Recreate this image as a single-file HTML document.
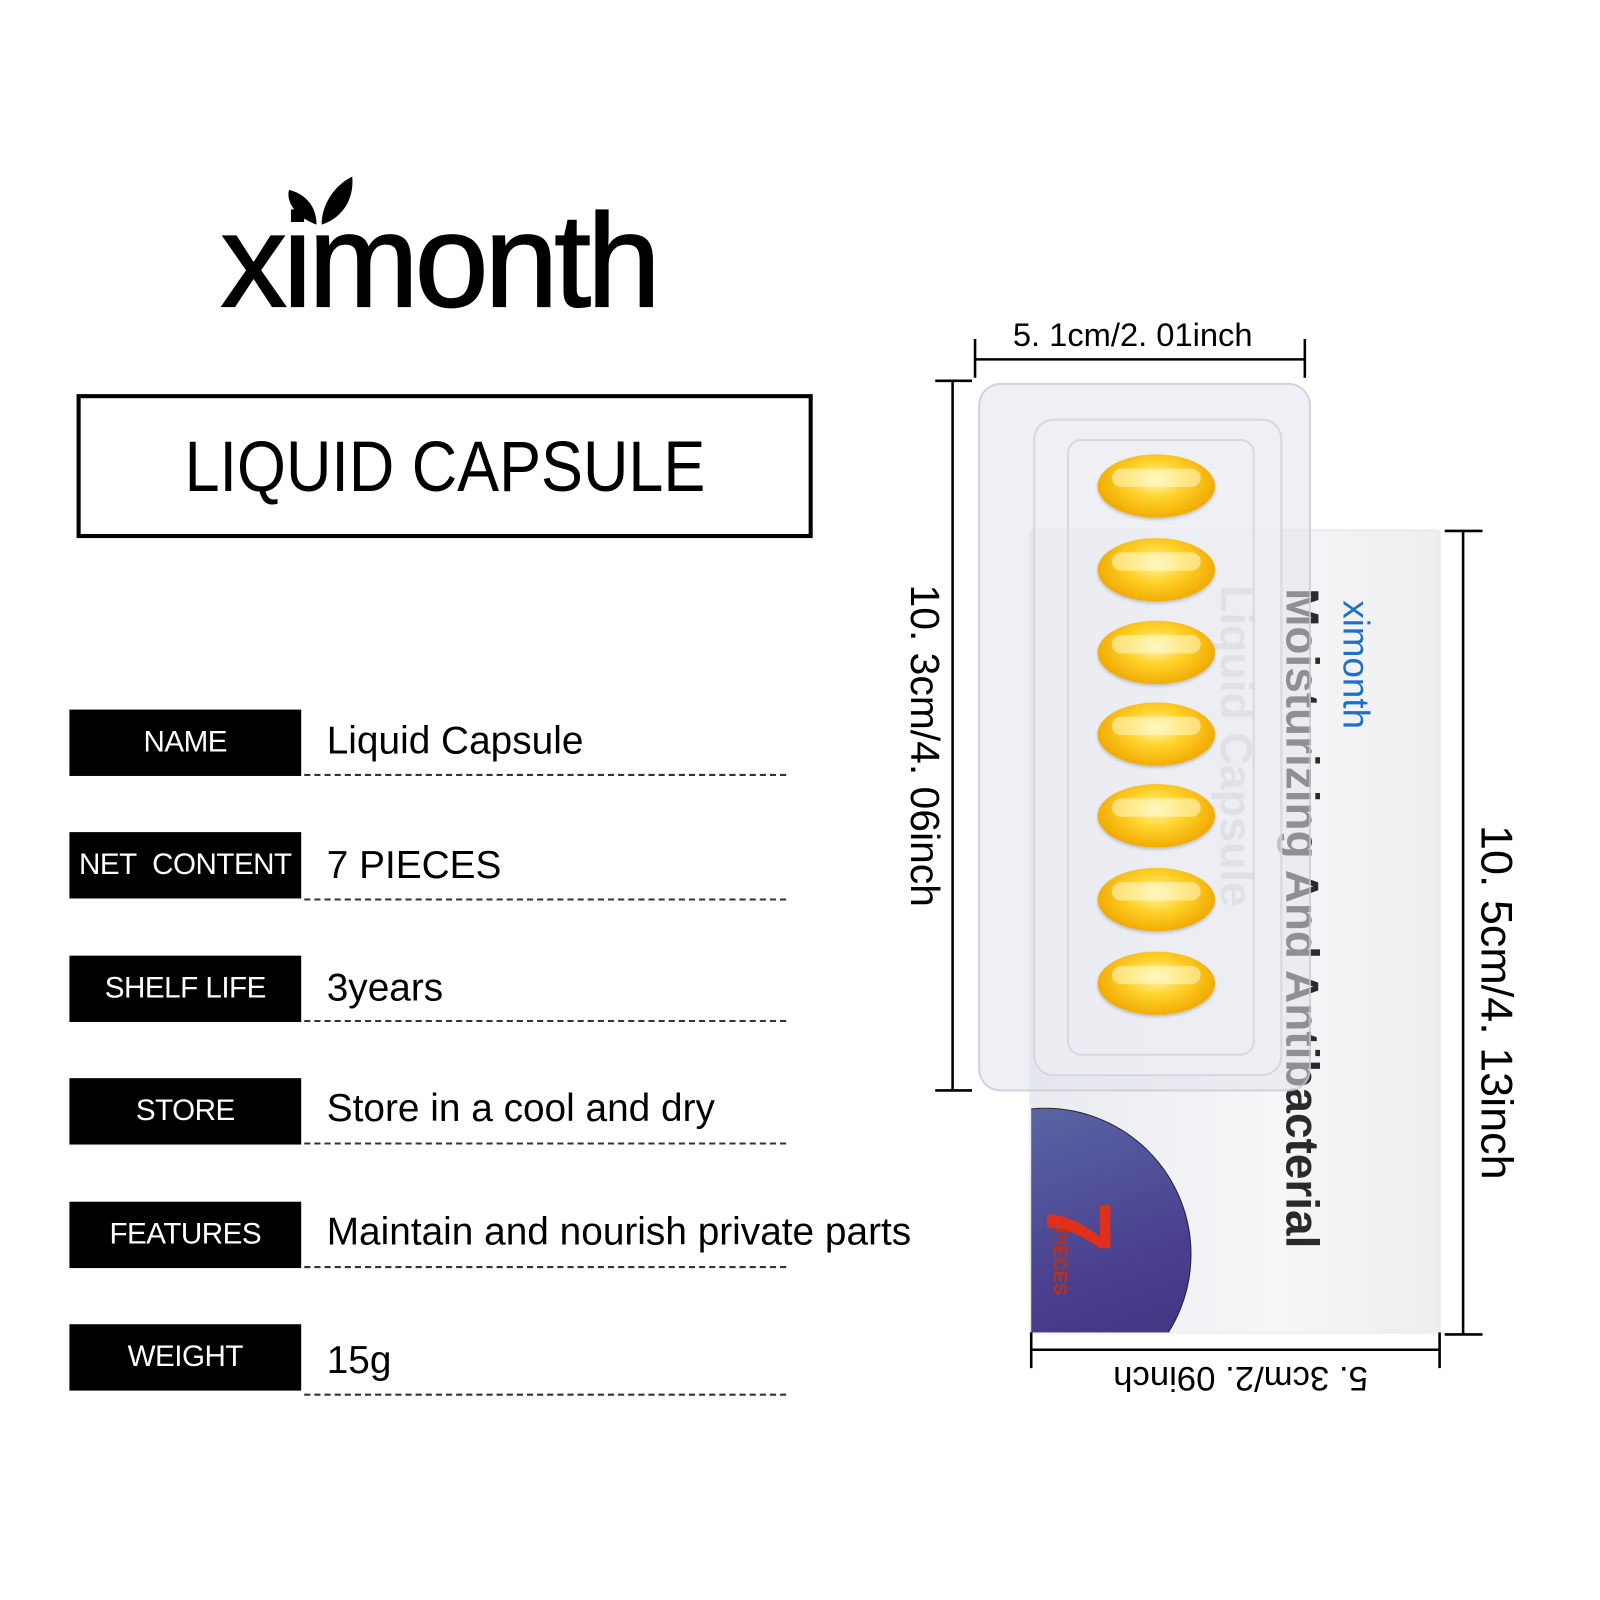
<!DOCTYPE html>
<html><head><style>
body{margin:0;width:1600px;height:1600px;background:#fff;position:relative;overflow:hidden;font-family:"Liberation Sans",sans-serif;}
#w{position:absolute;left:0;top:0;width:1560px;height:1560px;transform:scale(1.021);transform-origin:0 0}
.a{position:absolute}
.lab{position:absolute;left:68px;width:227px;height:65px;background:#000;color:#fff;font-size:29px;display:flex;align-items:center;justify-content:center;letter-spacing:-0.5px}
.val{position:absolute;left:320px;font-size:38px;color:#000}
.dash{position:absolute;left:298px;width:472px;border-top:2px dashed #333}
.cap{position:absolute;left:1075px;width:115px;height:62px;border-radius:50%;background:radial-gradient(ellipse at 50% 40%,#fff6b0 0%,#ffd22a 35%,#f0a800 75%,#c98a00 100%);box-shadow:0 2px 3px rgba(0,0,0,.2)}
.cap::after{content:"";position:absolute;left:14px;top:14px;width:87px;height:18px;border-radius:9px;background:rgba(255,250,210,.55)}
.rot{position:absolute;transform-origin:center;white-space:nowrap}
</style></head><body><div id="w">
<div class="a" style="left:216px;top:180px;font-size:130px;line-height:150px;letter-spacing:-4px;-webkit-text-stroke:1.5px #000">ximonth</div>
<svg class="a" style="left:275px;top:168px" width="80" height="60"><path d="M35 52 C15 45 5 30 8 18 C25 22 35 35 35 52Z" fill="#000"/><path d="M40 52 C40 30 55 12 70 5 C72 25 62 45 40 52Z" fill="#000"/></svg>
<div class="a" style="left:75px;top:386px;width:713px;height:133px;border:4px solid #000;display:flex;align-items:center;justify-content:center;"><span style="font-size:70px;display:inline-block;transform:scaleX(0.88)">LIQUID CAPSULE</span></div>
<div class="lab" style="top:695px">NAME</div><div class="val" style="top:705px">Liquid Capsule</div><div class="dash" style="top:758px"></div>
<div class="lab" style="top:815px">NET&nbsp; CONTENT</div><div class="val" style="top:827px">7 PIECES</div><div class="dash" style="top:880px"></div>
<div class="lab" style="top:936px">SHELF LIFE</div><div class="val" style="top:947px">3years</div><div class="dash" style="top:999px"></div>
<div class="lab" style="top:1056px">STORE</div><div class="val" style="top:1065px">Store in a cool and dry</div><div class="dash" style="top:1119px"></div>
<div class="lab" style="top:1177px">FEATURES</div><div class="val" style="top:1186px">Maintain and nourish private parts</div><div class="dash" style="top:1240px"></div>
<div class="lab" style="top:1297px">WEIGHT</div><div class="val" style="top:1312px">15g</div><div class="dash" style="top:1365px"></div>
<div class="a" style="left:1010px;top:520px;width:400px;height:785px;background:linear-gradient(90deg,#e9ebf0,#f6f6f8 60%,#eeeef0);box-shadow:0 0 3px #bbb;overflow:hidden">
 <div class="a" style="left:-130px;top:565px;width:285px;height:285px;border-radius:50%;background:linear-gradient(160deg,#5b6fa8,#4a3f8f 60%,#3a2f7a);border:1px solid #222"></div>
 <div class="a" style="left:20px;top:630px;font-size:90px;font-weight:bold;color:#e0301c;transform:rotate(90deg)">7</div>
</div>
<div class="rot" style="left:1265px;top:630px;font-size:36px;color:#1e6fc8;transform:rotate(90deg)">ximonth</div>
<div class="rot" style="left:950px;top:875px;font-size:45px;font-weight:bold;color:#2a2a2a;transform:rotate(90deg);width:650px">Moisturizing And Antibacterial</div>
<div class="rot" style="left:1050px;top:708px;font-size:44px;font-weight:bold;color:#b8b8c0;transform:rotate(90deg);width:320px">Liquid Capsule</div>
<div class="rot" style="left:1005px;top:1225px;font-size:18px;font-weight:bold;color:#c03010;transform:rotate(90deg)">PIECES</div>
<div class="a" style="left:958px;top:375px;width:322px;height:690px;border-radius:22px;background:rgba(225,228,236,.55);border:2px solid rgba(200,200,210,.7)"></div>
<div class="a" style="left:1012px;top:410px;width:240px;height:640px;border-radius:20px;background:rgba(240,241,246,.5);border:2px solid rgba(210,210,220,.8)"></div>
<div class="a" style="left:1045px;top:430px;width:180px;height:600px;border-radius:14px;border:2px solid rgba(210,210,220,.8)"></div>
<div class="cap" style="top:445px"></div><div class="cap" style="top:527px"></div><div class="cap" style="top:608px"></div><div class="cap" style="top:688px"></div><div class="cap" style="top:768px"></div><div class="cap" style="top:850px"></div><div class="cap" style="top:932px"></div>
<svg class="a" style="left:0;top:0" width="1560" height="1560"><g stroke="#000" stroke-width="2.5" fill="none">
<path d="M955 352H1278M955 332V370M1278 332V370"/>
<path d="M933 373V1068M916 373H952M916 1068H952"/>
<path d="M1433 520V1307M1415 520H1452M1415 1307H1452"/>
<path d="M1010 1322H1410M1010 1305V1340M1410 1305V1340"/></g></svg>
<div class="a" style="left:992px;top:310px;font-size:32px">5. 1cm/2. 01inch</div>
<div class="rot" style="left:770px;top:685px;width:270px;text-align:center;font-size:40px;transform:rotate(90deg)">10. 3cm/4. 06inch</div>
<div class="rot" style="left:1320px;top:928px;width:290px;text-align:center;font-size:44px;transform:rotate(90deg)">10. 5cm/4. 13inch</div>
<div class="rot" style="left:1070px;top:1330px;width:290px;text-align:center;font-size:34px;transform:rotate(180deg)">5. 3cm/2. 09inch</div>
</div></body></html>
